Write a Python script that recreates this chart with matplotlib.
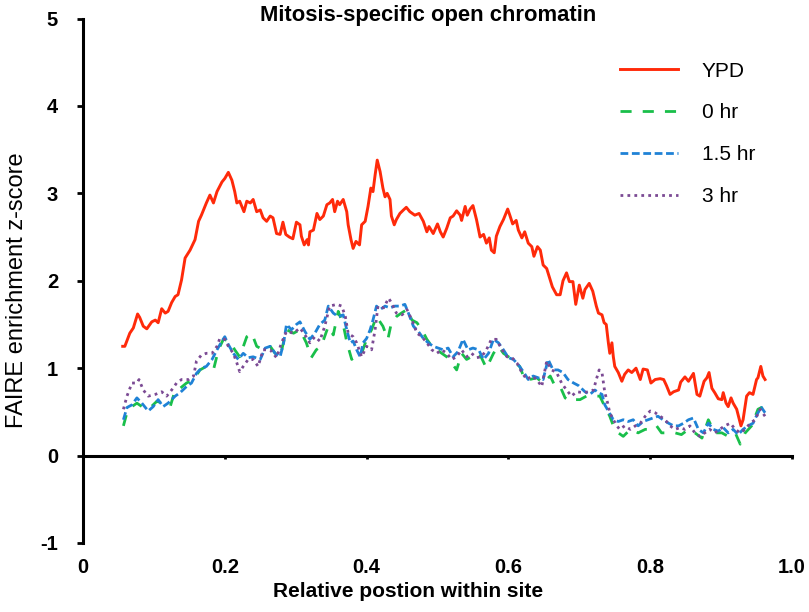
import matplotlib
matplotlib.use('Agg')
import matplotlib.pyplot as plt

plt.rcParams['font.family'] = ['Liberation Sans', 'DejaVu Sans']

# YPD
ypd_x = [0.056, 0.059, 0.066, 0.071, 0.077, 0.080, 0.085, 0.090, 0.097, 0.102,
         0.106, 0.111, 0.116, 0.120, 0.125, 0.130, 0.134, 0.139, 0.144, 0.151,
         0.158, 0.163, 0.167, 0.174, 0.179, 0.184, 0.189, 0.196, 0.200, 0.205,
         0.210, 0.214, 0.217, 0.221, 0.227, 0.231, 0.236, 0.240, 0.245, 0.250,
         0.254, 0.259, 0.264, 0.268, 0.273, 0.278, 0.282, 0.286, 0.291, 0.296,
         0.301, 0.306, 0.308, 0.312, 0.316, 0.318, 0.320, 0.325, 0.330, 0.334,
         0.339, 0.344, 0.348, 0.352, 0.355, 0.359, 0.362, 0.367, 0.372, 0.374,
         0.378, 0.381, 0.385, 0.390, 0.393, 0.398, 0.402, 0.406, 0.409, 0.412,
         0.415, 0.419, 0.423, 0.426, 0.429, 0.433, 0.435, 0.439, 0.442, 0.447,
         0.452, 0.456, 0.461, 0.468, 0.474, 0.480, 0.485, 0.488, 0.494, 0.500,
         0.504, 0.508, 0.513, 0.518, 0.522, 0.527, 0.532, 0.534, 0.539, 0.542,
         0.546, 0.550, 0.555, 0.560, 0.565, 0.569, 0.573, 0.576, 0.580, 0.583,
         0.588, 0.593, 0.599, 0.602, 0.606, 0.611, 0.614, 0.619, 0.623, 0.628,
         0.633, 0.636, 0.641, 0.645, 0.649, 0.654, 0.659, 0.662, 0.668, 0.673,
         0.677, 0.682, 0.686, 0.691, 0.695, 0.700, 0.705, 0.708, 0.714, 0.719,
         0.724, 0.727, 0.732, 0.735, 0.738, 0.741, 0.743, 0.746, 0.748, 0.750,
         0.755, 0.760, 0.764, 0.769, 0.774, 0.780, 0.786, 0.790, 0.796, 0.801,
         0.807, 0.814, 0.819, 0.823, 0.828, 0.833, 0.840, 0.843, 0.849, 0.854,
         0.861, 0.866, 0.870, 0.876, 0.880, 0.883, 0.887, 0.891, 0.896, 0.901,
         0.903, 0.907, 0.910, 0.914, 0.917, 0.922, 0.928, 0.931, 0.936, 0.940,
         0.945, 0.950, 0.952, 0.956, 0.959, 0.962]
ypd_y = [1.25, 1.25, 1.40, 1.46, 1.62, 1.58, 1.48, 1.45, 1.53, 1.55,
         1.52, 1.68, 1.63, 1.65, 1.75, 1.82, 1.84, 2.01, 2.26, 2.35,
         2.47, 2.68, 2.75, 2.89, 2.98, 2.89, 3.02, 3.13, 3.17, 3.24,
         3.15, 3.02, 2.89, 2.91, 2.79, 2.91, 2.89, 2.93, 2.79, 2.81,
         2.72, 2.68, 2.74, 2.72, 2.54, 2.53, 2.67, 2.53, 2.50, 2.48,
         2.67, 2.64, 2.51, 2.41, 2.47, 2.41, 2.56, 2.58, 2.77, 2.70,
         2.74, 2.87, 2.89, 2.93, 2.79, 2.91, 2.87, 2.93, 2.79, 2.64,
         2.47, 2.37, 2.45, 2.41, 2.64, 2.68, 2.85, 3.06, 3.02, 3.21,
         3.38, 3.25, 3.06, 2.96, 3.00, 2.93, 2.74, 2.64, 2.70, 2.77,
         2.81, 2.84, 2.79, 2.75, 2.77, 2.68, 2.56, 2.62, 2.54, 2.65,
         2.56, 2.50, 2.60, 2.72, 2.74, 2.80, 2.75, 2.69, 2.85, 2.75,
         2.82, 2.86, 2.70, 2.50, 2.53, 2.43, 2.49, 2.35, 2.32, 2.51,
         2.62, 2.70, 2.82, 2.75, 2.65, 2.69, 2.58, 2.49, 2.56, 2.43,
         2.39, 2.28, 2.39, 2.35, 2.18, 2.14, 2.01, 1.93, 1.84, 1.84,
         2.00, 2.09, 1.99, 1.99, 1.73, 1.95, 1.80, 1.90, 1.97, 1.88,
         1.71, 1.63, 1.61, 1.52, 1.50, 1.29, 1.17, 1.29, 1.13, 1.02,
         0.95, 0.85, 0.93, 0.98, 0.95, 1.00, 0.87, 0.99, 0.98, 0.83,
         0.87, 0.88, 0.87, 0.80, 0.70, 0.73, 0.75, 0.84, 0.90, 0.85,
         0.94, 0.70, 0.68, 0.85, 0.89, 0.95, 0.77, 0.72, 0.65, 0.64,
         0.72, 0.60, 0.56, 0.66, 0.60, 0.53, 0.34, 0.41, 0.68, 0.72,
         0.70, 0.87, 0.89, 1.02, 0.91, 0.87]

# 0 hr
hr0_x = [0.057, 0.062, 0.069, 0.076, 0.085, 0.095, 0.104, 0.113, 0.123, 0.130,
         0.137, 0.146, 0.156, 0.165, 0.174, 0.184, 0.191, 0.198, 0.207, 0.214,
         0.221, 0.231, 0.238, 0.245, 0.254, 0.264, 0.271, 0.278, 0.287, 0.297,
         0.306, 0.315, 0.322, 0.329, 0.336, 0.346, 0.353, 0.360, 0.367, 0.372,
         0.379, 0.386, 0.393, 0.400, 0.407, 0.414, 0.423, 0.430, 0.435, 0.442,
         0.449, 0.457, 0.464, 0.471, 0.478, 0.485, 0.492, 0.499, 0.506, 0.513,
         0.520, 0.527, 0.534, 0.541, 0.548, 0.555, 0.562, 0.569, 0.579, 0.586,
         0.593, 0.602, 0.609, 0.616, 0.623, 0.630, 0.640, 0.649, 0.659, 0.666,
         0.673, 0.680, 0.687, 0.692, 0.701, 0.710, 0.720, 0.729, 0.736, 0.743,
         0.748, 0.755, 0.762, 0.772, 0.783, 0.793, 0.802, 0.809, 0.816, 0.826,
         0.835, 0.844, 0.854, 0.863, 0.873, 0.882, 0.891, 0.901, 0.910, 0.920,
         0.927, 0.934, 0.943, 0.952, 0.957, 0.962]
hr0_y = [0.34, 0.49, 0.56, 0.60, 0.55, 0.55, 0.62, 0.60, 0.56, 0.75,
         0.77, 0.83, 0.87, 0.98, 1.02, 0.98, 1.21, 1.33, 1.31, 1.21,
         1.13, 1.36, 1.40, 1.25, 1.21, 1.25, 1.17, 1.13, 1.44, 1.40,
         1.44, 1.29, 1.12, 1.21, 1.25, 1.48, 1.38, 1.65, 1.50, 1.30,
         1.10, 1.15, 1.17, 1.33, 1.44, 1.59, 1.48, 1.33, 1.52, 1.59,
         1.63, 1.67, 1.55, 1.52, 1.44, 1.33, 1.25, 1.21, 1.17, 1.13,
         1.06, 0.98, 1.17, 1.10, 1.13, 1.17, 1.12, 1.00, 1.17, 1.25,
         1.17, 1.12, 1.06, 1.02, 0.87, 0.87, 0.89, 0.83, 0.91, 0.79,
         0.79, 0.66, 0.62, 0.64, 0.64, 0.68, 0.68, 0.68, 0.56, 0.45,
         0.34, 0.26, 0.22, 0.30, 0.26, 0.30, 0.30, 0.34, 0.26, 0.26,
         0.26, 0.24, 0.30, 0.26, 0.20, 0.41, 0.26, 0.26, 0.22, 0.26,
         0.13, 0.26, 0.34, 0.53, 0.55, 0.49]

# 1.5 hr
hr15_x = [0.057, 0.062, 0.069, 0.076, 0.083, 0.092, 0.099, 0.106, 0.113, 0.120,
          0.130, 0.137, 0.146, 0.153, 0.160, 0.167, 0.174, 0.182, 0.189, 0.196,
          0.200, 0.205, 0.212, 0.219, 0.226, 0.233, 0.240, 0.250, 0.257, 0.264,
          0.271, 0.278, 0.283, 0.287, 0.294, 0.301, 0.306, 0.313, 0.320, 0.327,
          0.334, 0.341, 0.346, 0.353, 0.360, 0.367, 0.372, 0.377, 0.381, 0.386,
          0.391, 0.395, 0.400, 0.405, 0.409, 0.414, 0.419, 0.426, 0.433, 0.440,
          0.447, 0.454, 0.459, 0.466, 0.473, 0.480, 0.487, 0.494, 0.501, 0.508,
          0.515, 0.522, 0.529, 0.536, 0.543, 0.550, 0.558, 0.565, 0.572, 0.579,
          0.586, 0.593, 0.600, 0.607, 0.614, 0.621, 0.628, 0.635, 0.642, 0.649,
          0.656, 0.663, 0.670, 0.677, 0.684, 0.692, 0.699, 0.708, 0.715, 0.722,
          0.727, 0.732, 0.736, 0.741, 0.748, 0.755, 0.762, 0.769, 0.776, 0.783,
          0.790, 0.797, 0.804, 0.811, 0.818, 0.826, 0.833, 0.840, 0.847, 0.854,
          0.861, 0.868, 0.875, 0.882, 0.889, 0.896, 0.903, 0.910, 0.917, 0.924,
          0.931, 0.938, 0.945, 0.952, 0.957, 0.962]
hr15_y = [0.41, 0.55, 0.58, 0.66, 0.60, 0.51, 0.56, 0.64, 0.56, 0.60,
          0.68, 0.72, 0.79, 0.83, 0.94, 1.00, 1.02, 1.10, 1.21, 1.31,
          1.36, 1.27, 1.17, 1.10, 1.17, 1.12, 1.13, 1.10, 1.23, 1.25,
          1.17, 1.13, 1.29, 1.50, 1.44, 1.50, 1.53, 1.42, 1.33, 1.40,
          1.50, 1.55, 1.71, 1.63, 1.59, 1.61, 1.44, 1.29, 1.31, 1.21,
          1.13, 1.29, 1.34, 1.44, 1.55, 1.71, 1.67, 1.71, 1.69, 1.71,
          1.71, 1.73, 1.63, 1.48, 1.42, 1.34, 1.29, 1.25, 1.23, 1.21,
          1.23, 1.13, 1.19, 1.33, 1.21, 1.23, 1.21, 1.10, 1.17, 1.33,
          1.29, 1.21, 1.12, 1.10, 1.04, 0.96, 0.87, 0.91, 0.89, 0.87,
          1.10, 0.98, 0.98, 0.95, 0.87, 0.83, 0.80, 0.73, 0.70, 0.75,
          0.72, 0.70, 0.58, 0.51, 0.41, 0.39, 0.41, 0.39, 0.41, 0.34,
          0.39, 0.41, 0.43, 0.45, 0.41, 0.37, 0.34, 0.34, 0.37, 0.41,
          0.43, 0.30, 0.26, 0.37, 0.30, 0.28, 0.32, 0.26, 0.30, 0.24,
          0.30, 0.34, 0.37, 0.49, 0.55, 0.49]

# 3 hr
hr3_x = [0.057, 0.062, 0.069, 0.076, 0.079, 0.085, 0.092, 0.102, 0.111, 0.118,
         0.125, 0.132, 0.139, 0.149, 0.156, 0.160, 0.167, 0.174, 0.182, 0.189,
         0.193, 0.200, 0.205, 0.212, 0.217, 0.221, 0.226, 0.233, 0.240, 0.247,
         0.254, 0.264, 0.273, 0.280, 0.287, 0.297, 0.306, 0.313, 0.320, 0.327,
         0.334, 0.341, 0.348, 0.358, 0.365, 0.370, 0.374, 0.381, 0.386, 0.393,
         0.400, 0.407, 0.412, 0.416, 0.424, 0.431, 0.435, 0.442, 0.450, 0.457,
         0.464, 0.471, 0.478, 0.485, 0.492, 0.499, 0.506, 0.513, 0.520, 0.527,
         0.534, 0.541, 0.548, 0.555, 0.562, 0.569, 0.576, 0.583, 0.591, 0.598,
         0.605, 0.612, 0.619, 0.626, 0.633, 0.640, 0.647, 0.654, 0.661, 0.668,
         0.675, 0.682, 0.689, 0.696, 0.706, 0.713, 0.720, 0.724, 0.728, 0.732,
         0.736, 0.740, 0.743, 0.748, 0.753, 0.757, 0.764, 0.772, 0.779, 0.786,
         0.793, 0.800, 0.807, 0.814, 0.821, 0.828, 0.835, 0.842, 0.849, 0.856,
         0.863, 0.870, 0.877, 0.884, 0.891, 0.898, 0.905, 0.913, 0.920, 0.927,
         0.934, 0.941, 0.948, 0.955, 0.962]
hr3_y = [0.53, 0.68, 0.83, 0.83, 0.87, 0.75, 0.68, 0.70, 0.73, 0.68,
         0.75, 0.83, 0.87, 0.87, 0.91, 1.08, 1.15, 1.17, 1.17, 1.25,
         1.34, 1.33, 1.25, 1.17, 1.06, 0.96, 1.02, 1.10, 1.10, 1.02,
         1.21, 1.21, 1.12, 1.29, 1.42, 1.40, 1.46, 1.38, 1.29, 1.36,
         1.31, 1.48, 1.71, 1.73, 1.71, 1.59, 1.40, 1.36, 1.29, 1.13,
         1.25, 1.21, 1.44, 1.71, 1.69, 1.80, 1.75, 1.63, 1.61, 1.67,
         1.55, 1.40, 1.36, 1.29, 1.21, 1.17, 1.21, 1.17, 1.10, 1.13,
         1.21, 1.13, 1.17, 1.12, 1.13, 1.21, 1.33, 1.33, 1.21, 1.13,
         1.12, 1.06, 0.95, 0.87, 0.91, 0.87, 0.79, 1.08, 0.98, 0.95,
         0.83, 0.75, 0.68, 0.73, 0.72, 0.73, 0.75, 0.87, 0.98, 0.95,
         0.72, 0.60, 0.49, 0.41, 0.34, 0.30, 0.34, 0.30, 0.34, 0.37,
         0.45, 0.51, 0.49, 0.45, 0.41, 0.34, 0.30, 0.32, 0.30, 0.34,
         0.26, 0.22, 0.26, 0.30, 0.26, 0.30, 0.34, 0.37, 0.30, 0.26,
         0.30, 0.37, 0.41, 0.53, 0.45]

series_labels = ['YPD', '0 hr', '1.5 hr', '3 hr']
x_ticks = [0, 0.2, 0.4, 0.6, 0.8, 1.0]
x_tick_labels = ['0', '0.2', '0.4', '0.6', '0.8', '1.0']
y_ticks = [-1, 0, 1, 2, 3, 4, 5]

fig = plt.figure(figsize=(8.09, 6.12), dpi=100)
ax = fig.add_axes([83 / 809, 1 - 543 / 612, 709 / 809, 524.5 / 612])

ax.plot(ypd_x, ypd_y, color='#ff2a0a', lw=2.1, label=series_labels[0])
ax.plot(hr0_x, hr0_y, color='#19bf4a', lw=2.0, dashes=(4, 4), label=series_labels[1])
ax.plot(hr15_x, hr15_y, color='#1f82d6', lw=2.0, dashes=(2.8, 1.3), label=series_labels[2])
ax.plot(hr3_x, hr3_y, color='#7b4a94', lw=2.0, dashes=(1, 1.5), label=series_labels[3])

ax.set_xlim(0, 1)
ax.set_ylim(-1, 5)

for side in ['top', 'right', 'bottom']:
    ax.spines[side].set_visible(False)
ax.spines['left'].set_linewidth(2.2)

ax.set_xticks(x_ticks)
ax.set_xticklabels(x_tick_labels, fontsize=14.5, fontweight='bold')
ax.tick_params(axis='x', length=0, pad=11)
ax.set_yticks(y_ticks)
ax.set_yticklabels([str(v) for v in y_ticks], fontsize=14.5, fontweight='bold')
ax.tick_params(axis='y', direction='out', length=4, width=2, pad=14)

# horizontal axis drawn at y = 0
sec = ax.secondary_xaxis(1 / 6)
sec.set_xticks(x_ticks)
sec.set_xticklabels([])
sec.xaxis.set_ticks_position('bottom')
sec.tick_params(axis='x', direction='out', length=2.5, width=2)
sec.spines['bottom'].set_linewidth(2.2)
for side in ['top', 'left', 'right']:
    sec.spines[side].set_visible(False)

ax.set_xlabel('Relative postion within site', fontsize=15, fontweight='bold')
ax.xaxis.set_label_coords(0.458, -0.074)
ax.set_ylabel('FAIRE enrichment z-score', fontsize=17)
ax.yaxis.set_label_coords(-0.0776, 0.482)

fig.text(428 / 809, 1 - 15 / 612, 'Mitosis-specific open chromatin',
         fontsize=15.8, fontweight='bold', ha='center', va='center')

ax.legend(loc='upper left', bbox_to_anchor=(0.757, 0.918), frameon=False,
          fontsize=15, handlelength=2.8, handletextpad=1.15, labelspacing=1.1,
          borderpad=0, borderaxespad=0)

fig.savefig('out.png', dpi=100)
